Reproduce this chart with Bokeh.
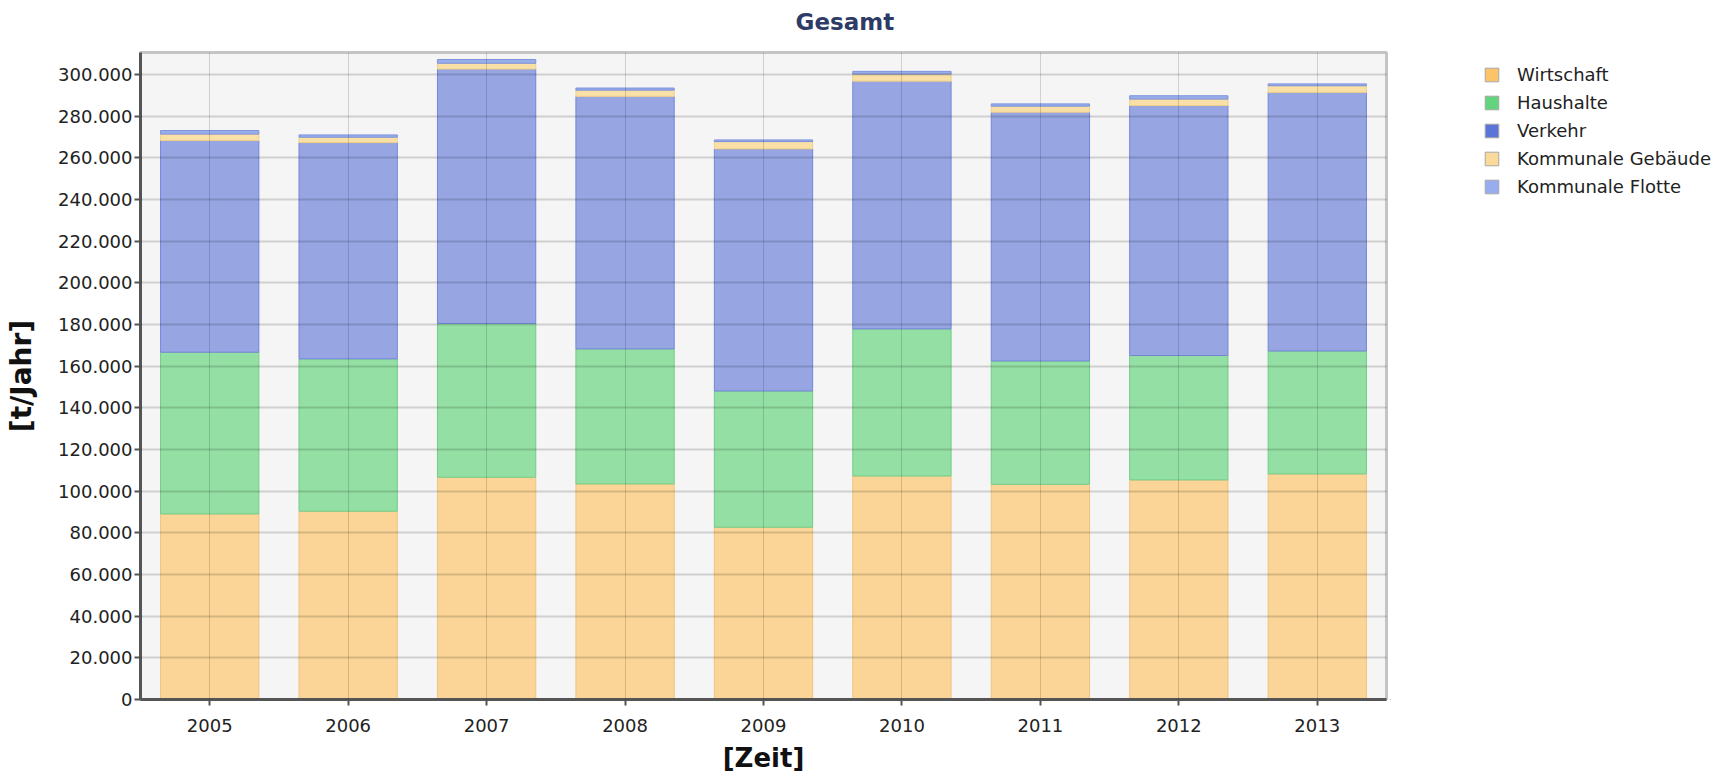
from bokeh.plotting import figure
from bokeh.layouts import row
from bokeh.models import (ColumnDataSource, FixedTicker, Legend, LegendItem,
                          FactorRange, Range1d, Title)
from bokeh.embed import file_html
from bokeh.resources import INLINE

years = ["2005", "2006", "2007", "2008", "2009", "2010", "2011", "2012", "2013"]
series = ["Wirtschaft", "Haushalte", "Verkehr", "Kommunale Gebäude", "Kommunale Flotte"]
wirtschaft = [89100, 90400, 106700, 103500, 82700, 107300, 103300, 105400, 108300]
haushalte = [77600, 73100, 73800, 64800, 65400, 70600, 59200, 59700, 59000]
verkehr = [101600, 103800, 122100, 121200, 116200, 118900, 119400, 120000, 124100]
kommunale_gebaeude = [3100, 2600, 2800, 3000, 3500, 3400, 2900, 3100, 3200]
kommunale_flotte = [1700, 1100, 1800, 1000, 800, 1300, 1100, 1600, 900]
y_ticks = list(range(0, 300001, 20000))

bar_colors = ["#FAD597", "#94E0A4", "#97A6E3", "#F9E0A6", "#9AAEE8"]
bar_lines = ["#EFC47E", "#72CC88", "#7486D8", "#EFD08A", "#7D92DE"]
legend_colors = ["#FCC46A", "#62D47E", "#5A74D8", "#F9DA9A", "#97ADF0"]

FONT = "DejaVu Sans"

source = ColumnDataSource(dict(
    year=years,
    Wirtschaft=wirtschaft,
    Haushalte=haushalte,
    Verkehr=verkehr,
    **{"Kommunale Gebäude": kommunale_gebaeude, "Kommunale Flotte": kommunale_flotte},
))

p = figure(
    width=1390, height=778,
    x_range=FactorRange(*years), y_range=Range1d(0, 310560),
    output_backend="svg", toolbar_location=None,
    min_border_left=140, min_border_right=4, min_border_top=52, min_border_bottom=79,
    background_fill_color="#F5F5F5", border_fill_color="white",
)
p.x_range.range_padding = 0

# spacer (closest to the frame) and the actual title above it
p.add_layout(Title(text=" ", text_font_size="1px", standoff=8), "above")
p.add_layout(Title(text="Gesamt", text_font=FONT, text_font_style="bold",
                   text_font_size="23px", text_color="#2E3B66", align="left",
                   offset=655, standoff=13), "above")

p.vbar_stack(series, x="year", width=0.71, source=source,
             fill_color=bar_colors, line_color=bar_lines, line_width=1)

# grid
p.xgrid.grid_line_color = "#000000"
p.xgrid.grid_line_alpha = 0.15
p.xgrid.grid_line_width = 1
p.xgrid.level = "overlay"
p.ygrid.grid_line_color = "#000000"
p.ygrid.grid_line_alpha = 0.15
p.ygrid.grid_line_width = 2
p.ygrid.level = "overlay"
p.ygrid.ticker = FixedTicker(ticks=y_ticks)

p.outline_line_color = "#C4C4C4"
p.outline_line_width = 3

# axes
p.yaxis.ticker = FixedTicker(ticks=y_ticks)
p.yaxis.major_label_overrides = {t: f"{t:,}".replace(",", ".") for t in y_ticks}
for ax in (p.xaxis[0], p.yaxis[0]):
    ax.axis_line_color = "#555555"
    ax.axis_line_width = 3
    ax.major_tick_line_color = "#555555"
    ax.major_tick_line_width = 2
    ax.major_tick_out = 6
    ax.major_tick_in = 0
    ax.minor_tick_line_color = None
    ax.major_label_text_font = FONT
    ax.major_label_text_font_size = "18px"
    ax.major_label_text_color = "#222222"
    ax.axis_label_text_font = FONT
    ax.axis_label_text_font_style = "bold"
    ax.axis_label_text_color = "#111111"
p.yaxis.axis_label = "[t/Jahr]"
p.xaxis.axis_label = "[Zeit]"
p.yaxis.axis_label_text_font_size = "28px"
p.xaxis.axis_label_text_font_size = "26px"
p.yaxis.major_label_standoff = 2
p.yaxis.axis_label_standoff = 17
p.xaxis.major_label_standoff = 13
p.xaxis.axis_label_standoff = 8

# legend panel (separate figure to the right of the chart; frames are aligned)
lg = figure(width=344, height=778, x_range=Range1d(0, 1), y_range=Range1d(0, 1),
            output_backend="svg", toolbar_location=None, min_border=0,
            outline_line_color=None, border_fill_color="white",
            background_fill_color="white")
lg.axis.visible = False
lg.grid.visible = False
items = []
for name, col in zip(series, legend_colors):
    # swatch renderer kept outside the visible range; only its legend glyph shows
    r = lg.vbar(x=[-5], top=[-5], bottom=[-6], width=0.5, fill_color=col,
                line_color="#A8A8A8", line_width=1)
    items.append(LegendItem(label=name, renderers=[r]))
legend = Legend(items=items, location=(93, 500), orientation="vertical",
                padding=0, margin=0, spacing=3, label_height=25, glyph_height=17,
                glyph_width=17, label_standoff=17, border_line_color=None,
                background_fill_alpha=0, label_text_font=FONT,
                label_text_font_size="18px", label_text_color="#222222")
lg.add_layout(legend)

layout = row(p, lg, spacing=0)
open("out.html", "w").write(file_html(layout, INLINE))
